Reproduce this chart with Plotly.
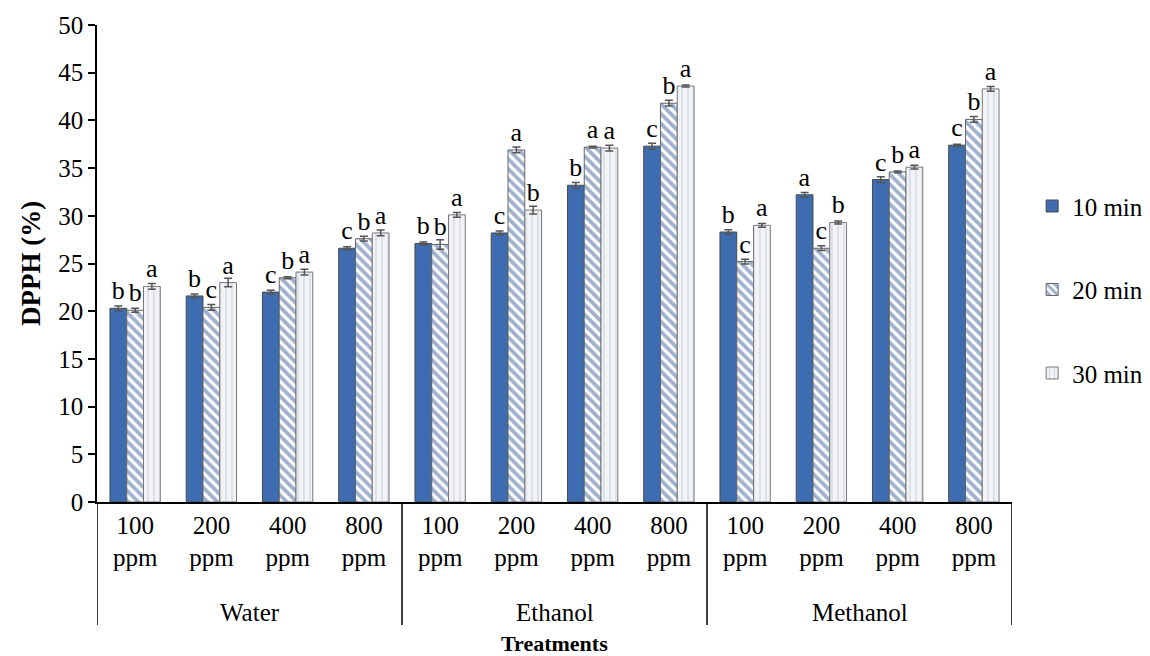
import plotly.graph_objects as go

solvents = ["Water", "Ethanol", "Methanol"]
concentrations = ["100<br>ppm", "200<br>ppm", "400<br>ppm", "800<br>ppm"]
series_names = ["10 min", "20 min", "30 min"]

dpph_10 = [20.3, 21.6, 22.0, 26.6, 27.1, 28.2, 33.2, 37.3, 28.3, 32.2, 33.8, 37.4]
dpph_20 = [20.1, 20.4, 23.5, 27.6, 27.0, 36.9, 37.2, 41.8, 25.2, 26.6, 34.6, 40.1]
dpph_30 = [22.6, 23.0, 24.1, 28.2, 30.1, 30.6, 37.1, 43.6, 29.0, 29.3, 35.1, 43.3]

err_10 = [0.25, 0.2, 0.2, 0.15, 0.15, 0.2, 0.3, 0.3, 0.25, 0.25, 0.3, 0.1]
err_20 = [0.2, 0.3, 0.1, 0.25, 0.5, 0.3, 0.1, 0.3, 0.25, 0.25, 0.1, 0.3]
err_30 = [0.3, 0.45, 0.3, 0.3, 0.25, 0.4, 0.3, 0.1, 0.2, 0.15, 0.2, 0.25]

letters_10 = ["b", "b", "c", "c", "b", "c", "b", "c", "b", "a", "c", "c"]
letters_20 = ["b", "c", "b", "b", "b", "a", "a", "b", "c", "c", "b", "b"]
letters_30 = ["a", "a", "a", "a", "a", "b", "a", "a", "a", "b", "a", "a"]

n_cat = len(solvents) * len(concentrations)
x_idx = list(range(n_cat))
tick_text = concentrations * len(solvents)

FONT = "Liberation Serif, Times New Roman, serif"

styles = [
    dict(color="#3d6cb0", line=dict(color="#4a4a4a", width=1)),
    dict(color="#ffffff", line=dict(color="#666666", width=1),
         pattern=dict(shape="\\", fgcolor="#41649c", bgcolor="#ffffff", size=7, solidity=0.55)),
    dict(color="#f2f2f2", line=dict(color="#777777", width=1),
         pattern=dict(shape="|", fgcolor="#9db8dc", bgcolor="#f3f3f3", size=6, solidity=0.2)),
]

fig = go.Figure()
for name, vals, errs, lets, st in zip(series_names,
                                      [dpph_10, dpph_20, dpph_30],
                                      [err_10, err_20, err_30],
                                      [letters_10, letters_20, letters_30],
                                      styles):
    fig.add_trace(go.Bar(
        x=x_idx, y=vals, name=name, legendgroup=name,
        marker=st,
        error_y=dict(type="data", array=errs, visible=True, color="#555555", thickness=1.5, width=4),
        text=lets, textposition="outside", constraintext="none", cliponaxis=False,
        textfont=dict(family=FONT, size=26, color="black"),
    ))

# group labels
for gi, s in enumerate(solvents):
    center = gi * len(concentrations) + (len(concentrations) - 1) / 2
    fig.add_annotation(x=center, xref="x", y=-0.231, yref="paper", text=s, showarrow=False,
                       font=dict(family=FONT, size=25, color="black"), yanchor="middle")

# dividers
for gi in range(len(solvents) + 1):
    xb = gi * len(concentrations) - 0.5
    fig.add_shape(type="line", xref="x", yref="paper", x0=xb, x1=xb, y0=0, y1=-0.258,
                  line=dict(color="black", width=1.5))

fig.add_annotation(x=0.5, xref="paper", y=-0.296, yref="paper", text="<b>Treatments</b>",
                   showarrow=False, font=dict(family=FONT, size=22, color="black"), yanchor="middle")

fig.update_layout(
    width=1142, height=648,
    margin=dict(l=89, r=138, t=17, b=154, autoexpand=False),
    plot_bgcolor="white", paper_bgcolor="white",
    barmode="group", bargap=0.34, bargroupgap=0,
    font=dict(family=FONT, size=25, color="black"),
    legend=dict(x=1.022, y=0.445, xanchor="left", yanchor="middle",
                font=dict(family=FONT, size=25, color="black"),
                tracegroupgap=48, itemwidth=30, traceorder="grouped"),
    xaxis=dict(range=[-0.5, n_cat - 0.5], tickvals=x_idx, ticktext=tick_text, automargin=False,
               showline=True, linecolor="black", linewidth=1.5, ticks="", showgrid=False,
               zeroline=False, tickfont=dict(family=FONT, size=25, color="black")),
    yaxis=dict(range=[0, 50], dtick=5, showline=True, linecolor="black", linewidth=1.5, automargin=False,
               ticks="outside", ticklen=7, tickcolor="black", tickwidth=1.5, showgrid=False,
               zeroline=False, tickfont=dict(family=FONT, size=25, color="black"),
               title=dict(text="<b>DPPH (%)</b>", font=dict(family=FONT, size=27, color="black"),
                          standoff=10)),
)

fig.write_html("out.html")
